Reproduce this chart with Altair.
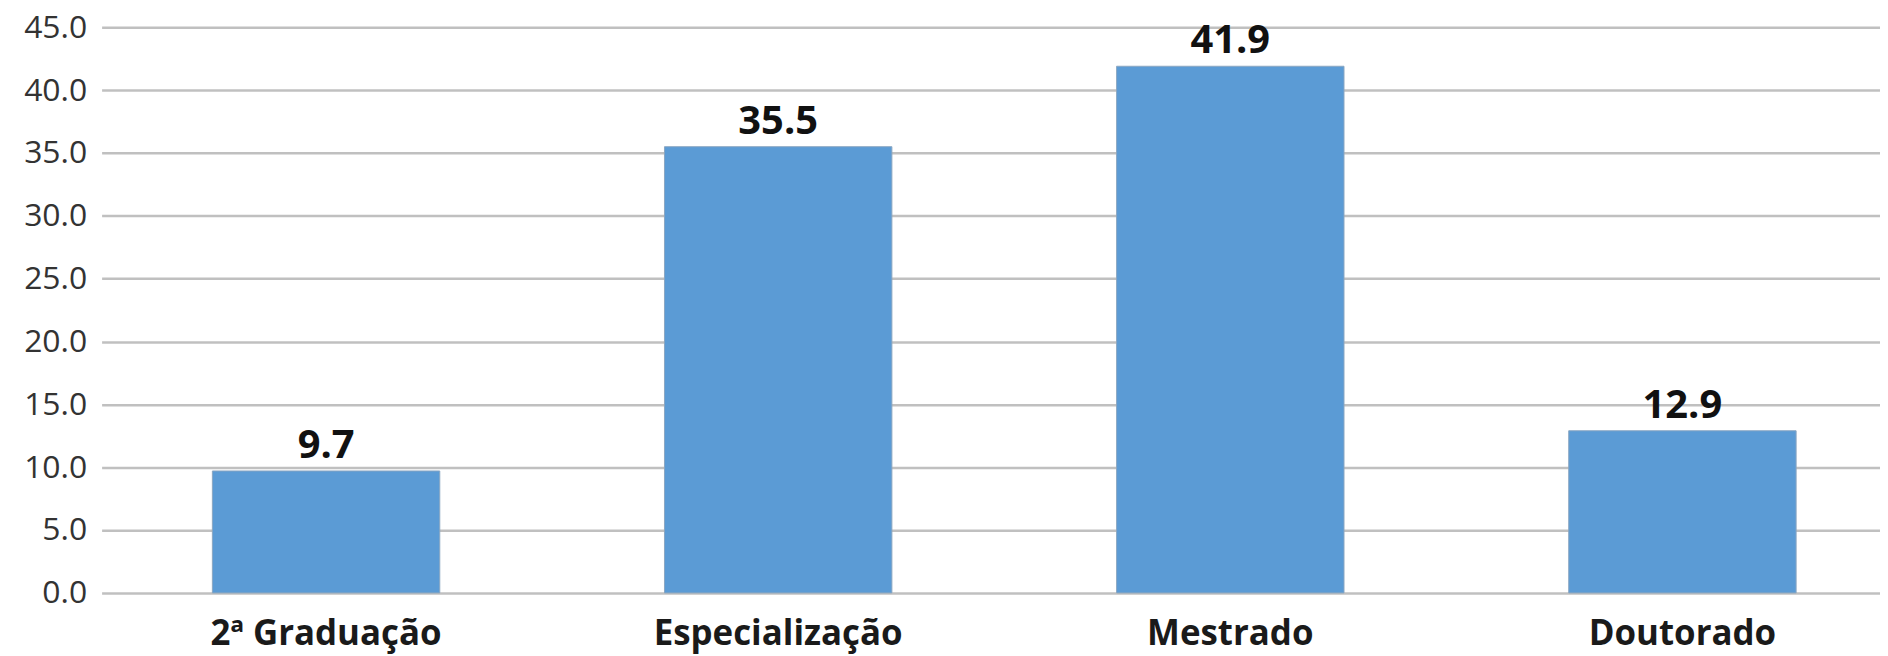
import altair as alt
import pandas as pd

categories = ["2ª Graduação", "Especialização", "Mestrado", "Doutorado"]
values = [9.7, 35.5, 41.9, 12.9]
y_ticks = [0, 5, 10, 15, 20, 25, 30, 35, 40, 45]

df = pd.DataFrame({"cat": categories, "val": values})

x_enc = alt.X(
    "cat:N",
    sort=categories,
    title=None,
    scale=alt.Scale(range=[0, 1813], paddingInner=0.497, paddingOuter=0.245),
    axis=alt.Axis(
        labelAngle=0,
        labelFont="Open Sans",
        labelFontWeight="bold",
        labelFontSize=35,
        labelColor="#1a1a1a",
        labelPadding=24,
        labelLimit=0,
        ticks=False,
        domain=False,
        grid=False,
        labelBaseline="top",
    ),
)

y_enc = alt.Y(
    "val:Q",
    title=None,
    scale=alt.Scale(domain=[0, 45], nice=False),
    axis=alt.Axis(
        values=y_ticks,
        format=".1f",
        labelFont="Open Sans",
        labelFontSize=32,
        labelColor="#333333",
        labelPadding=15,
        ticks=False,
        domain=False,
        grid=True,
        gridColor="#c0c0c0",
        gridWidth=2.5,
    ),
)

bars = alt.Chart(df).mark_bar(
    color="#5b9bd5", stroke="#8aa6c2", strokeWidth=1
).encode(x=x_enc, y=y_enc)

labels = alt.Chart(df).mark_text(
    font="Open Sans",
    fontWeight="bold",
    fontSize=40,
    color="#111111",
    baseline="alphabetic",
    dy=-13,
).encode(x=alt.X("cat:N", sort=categories), y="val:Q", text=alt.Text("val:Q", format=".1f"))

chart = (
    alt.layer(bars, labels)
    .properties(
        width=1786,
        height=568,
        autosize=alt.AutoSizeParams(type="none"),
        padding={"left": 94, "top": 18, "right": 0, "bottom": 62},
        background="white",
    )
    .configure_view(stroke=None)
)

chart.save("out.html", embed_options={"renderer": "svg", "actions": False})
